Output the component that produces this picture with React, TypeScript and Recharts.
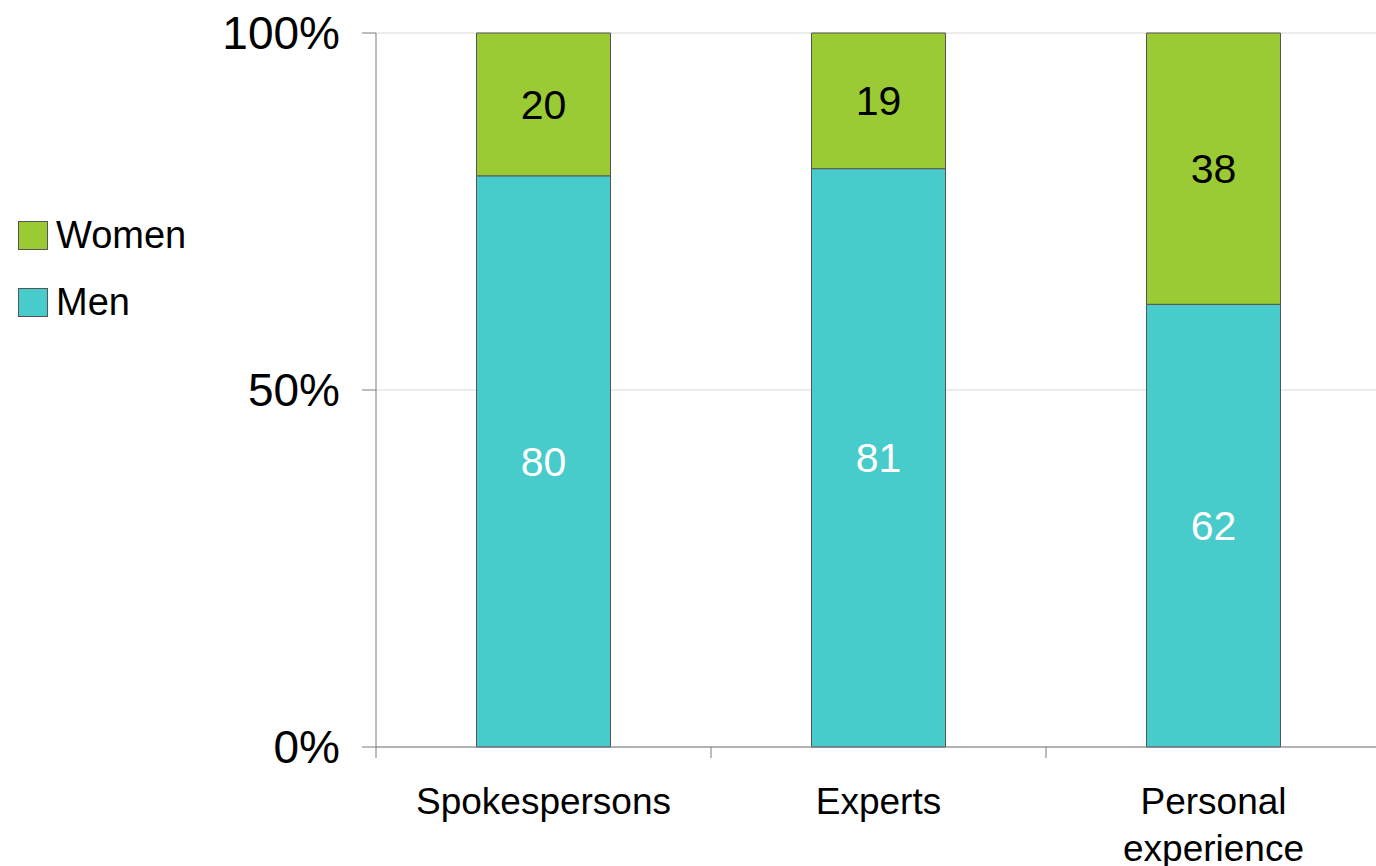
import React from "react";
import { BarChart, Bar, XAxis, YAxis, CartesianGrid, LabelList } from "recharts";

const categories = ["Spokespersons", "Experts", "Personal experience"];
const menValues = [80, 81, 62];
const womenValues = [20, 19, 38];
const yTicks = [0, 50, 100];

const seriesInfo = [
  { key: "women", name: "Women", color: "#9ACB34", labelColor: "#000000" },
  { key: "men", name: "Men", color: "#48CBCB", labelColor: "#ffffff" },
];

const data = categories.map((c, i) => ({ name: c, men: menValues[i], women: womenValues[i] }));

const FONT = "'Liberation Sans', Arial, sans-serif";
const X_TICK_SIZE = 11;
const X_TICK_MARGIN = 30;
const X_FONT = 37;
const X_LINE = 47;

const XTick = (props: any) => {
  const { x, y, payload } = props;
  const off = payload && typeof payload.offset === "number" ? payload.offset : 0;
  const axisY = y - X_TICK_SIZE - X_TICK_MARGIN;
  const lines = String(payload.value).split(" ");
  return (
    <g>
      {off > 0 && (
        <line x1={x - off} x2={x - off} y1={axisY} y2={axisY + X_TICK_SIZE} stroke="#7a7a7a" strokeWidth={1} />
      )}
      <text x={x} y={y} textAnchor="middle" fontSize={X_FONT} fontFamily={FONT} fill="#000">
        {lines.map((ln, i) => (
          <tspan key={i} x={x} dy={i === 0 ? "0.71em" : X_LINE}>
            {ln}
          </tspan>
        ))}
      </text>
    </g>
  );
};

export default function App() {
  return (
    <div style={{ position: "fixed", left: 0, top: 0, width: 1376, height: 866, overflow: "hidden", background: "#fff" }}>
      <BarChart
        width={1390}
        height={900}
        data={data}
        margin={{ top: 33, right: 9, bottom: 53, left: 0 }}
        barCategoryGap="30%"
      >
        <CartesianGrid vertical={false} stroke="#d9d9d9" />
        <XAxis
          dataKey="name"
          height={100}
          tickLine={false}
          tickSize={X_TICK_SIZE}
          tickMargin={X_TICK_MARGIN}
          axisLine={{ stroke: "#7a7a7a" }}
          tick={<XTick />}
          interval={0}
        />
        <YAxis
          width={376}
          domain={[0, 100]}
          ticks={yTicks}
          tickFormatter={(v: number) => `${v}%`}
          tickSize={14}
          tickMargin={22}
          axisLine={{ stroke: "#7a7a7a" }}
          tickLine={{ stroke: "#7a7a7a" }}
          tick={{ fontSize: 46, fontFamily: FONT, fill: "#000" }}
        />
        <Bar dataKey="men" name="Men" stackId="a" fill={seriesInfo[1].color} stroke="#555" strokeWidth={1} isAnimationActive={false}>
          <LabelList dataKey="men" position="center" fill={seriesInfo[1].labelColor} fontSize={41} fontFamily={FONT} />
        </Bar>
        <Bar dataKey="women" name="Women" stackId="a" fill={seriesInfo[0].color} stroke="#555" strokeWidth={1} isAnimationActive={false}>
          <LabelList dataKey="women" position="center" fill={seriesInfo[0].labelColor} fontSize={41} fontFamily={FONT} />
        </Bar>
      </BarChart>
      <div style={{ position: "absolute", left: 18, top: 216, fontFamily: FONT, fontSize: 38, color: "#000" }}>
        {seriesInfo.map((s) => (
          <div key={s.key} style={{ display: "flex", alignItems: "center", height: 38, marginBottom: 29 }}>
            <span
              style={{
                display: "inline-block",
                width: 30,
                height: 29,
                background: s.color,
                border: "1px solid #555",
                marginRight: 8,
                boxSizing: "border-box",
              }}
            />
            <span>{s.name}</span>
          </div>
        ))}
      </div>
    </div>
  );
}
